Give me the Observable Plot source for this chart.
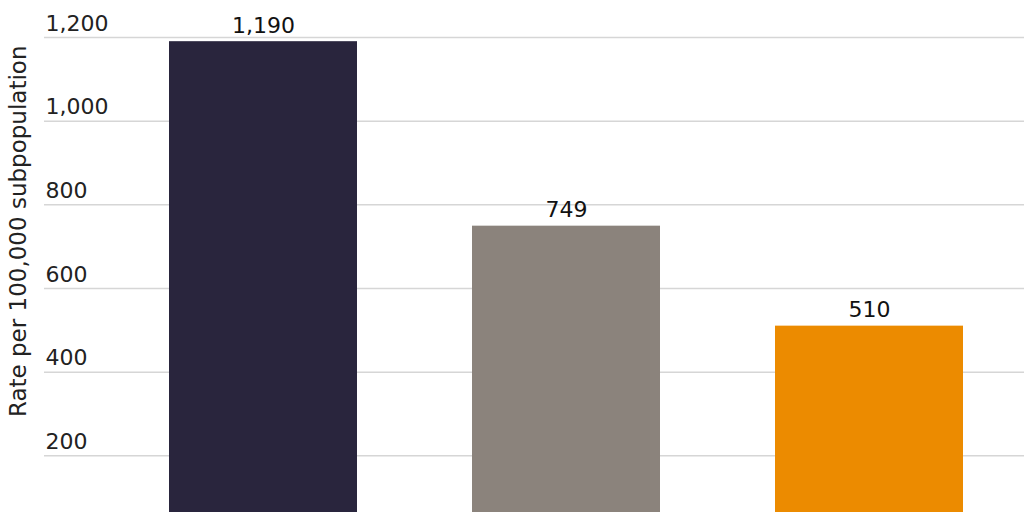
<!DOCTYPE html>
<html><head><meta charset="utf-8">
<script src="https://cdn.jsdelivr.net/npm/d3@7"></script>
<script src="https://cdn.jsdelivr.net/npm/@observablehq/plot@0.6"></script>
<style>
html,body{margin:0;padding:0;background:#fff;overflow:hidden}
svg{display:block}
</style>
</head><body>
<div id="chart"></div>
<script>
const categories = ["Group A", "Group B", "Group C"];
const values = [1190, 749, 510];
const colors = ["#29253d", "#8b837c", "#ec8b00"];
const yTicks = [200, 400, 600, 800, 1000, 1200];
const yLabel = "Rate per 100,000 subpopulation";

const data = categories.map((c, i) => ({category: c, value: values[i], color: colors[i]}));
const font = "'DejaVu Sans', Verdana, sans-serif";

const chart = Plot.plot({
  width: 1024,
  height: 540,
  marginTop: 37,
  marginBottom: 1,
  marginLeft: 44,
  marginRight: 0,
  style: {fontFamily: font, fontSize: "22px", color: "#222", background: "#fff"},
  x: {domain: categories, range: [107, 1024], paddingInner: 0.38, paddingOuter: 0.2, axis: null},
  y: {domain: [0, 1200], axis: null},
  marks: [
    Plot.ruleY(yTicks, {stroke: "#d6d6d6", strokeWidth: 1.5}),
    Plot.barY(data, {x: "category", y: "value", fill: "color"}),
    Plot.text(yTicks, {y: d => d, frameAnchor: "left", text: d => d3.format(",")(d), textAnchor: "start", lineAnchor: "bottom", dx: 1, dy: -7, fill: "#222", fontSize: 22}),
    Plot.text(data, {x: "category", y: "value", text: d => d3.format(",")(d.value), textAnchor: "middle", lineAnchor: "bottom", dy: -9, fill: "#111", fontSize: 22}),
    Plot.text([yLabel], {frameAnchor: "top-left", text: d => d, rotate: -90, textAnchor: "end", lineAnchor: "middle", dx: -26, dy: 8, fill: "#222", fontSize: 23})
  ]
});
document.getElementById("chart").appendChild(chart);
</script>
</body></html>
